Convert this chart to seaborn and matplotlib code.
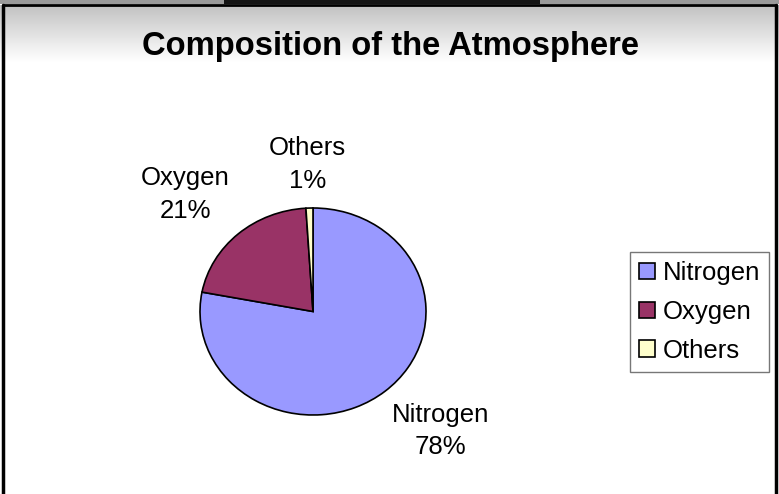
import numpy as np
import matplotlib
matplotlib.use('Agg')
import matplotlib.pyplot as plt
from matplotlib.patches import Rectangle
import seaborn as sns

sns.set_style('white')
plt.rcParams['font.family'] = ['Liberation Sans', 'DejaVu Sans']
plt.rcParams['text.color'] = 'black'

gases = ["Nitrogen", "Oxygen", "Others"]
shares = [78, 21, 1]
colors = ["#9999FF", "#993366", "#FFFFCC"]
title = "Composition of the Atmosphere"

W, H = 779, 494
fig = plt.figure(figsize=(W / 100, H / 100), dpi=100)

# background: screenshot frame with gray gradient at the top
bg = fig.add_axes([0, 0, 1, 1])
bg.set_xlim(0, W)
bg.set_ylim(H, 0)
bg.axis('off')
grad = np.linspace(0.76, 1.0, 60).reshape(-1, 1)
bg.imshow(grad, cmap='gray', vmin=0, vmax=1, extent=(0, W, 62, 5), aspect='auto')
bg.add_patch(Rectangle((0, 0), W, 4, color='#9a9a9a', lw=0))
bg.add_patch(Rectangle((224, 0), 316, 4, color='#151515', lw=0))
bg.plot([3, W - 3], [5, 5], color='black', lw=2)
bg.plot([3, 3], [5, H], color='black', lw=2.5)
bg.plot([W - 3, W - 3], [5, H], color='black', lw=2.5)
bg.text(W / 2 + 1, 46, title, ha='center', va='center', fontsize=23.6, fontweight='bold')

# pie (slightly elliptical like the original)
ax = fig.add_axes([200 / W, (H - 415) / H, 226 / W, 207 / H])
wedges, texts = ax.pie(shares, colors=colors, startangle=90, counterclock=False,
                       labels=[f"{g}\n{s}%" for g, s in zip(gases, shares)],
                       wedgeprops=dict(edgecolor='black', linewidth=1.2),
                       textprops=dict(fontsize=18.5, ha='center', va='center', linespacing=1.45))
ax.set_aspect('auto')
ax.set_xlim(-1.0, 1.0)
ax.set_ylim(-1.0, 1.0)
label_pos = [(1.13, -1.155), (-1.13, 1.13), (-0.05, 1.42)]
for t, p in zip(texts, label_pos):
    t.set_position(p)

leg = fig.legend(wedges, gases, loc='upper left', bbox_to_anchor=(630 / W, 1 - 252 / H),
                 fontsize=18.5, frameon=True, fancybox=False, handlelength=0.62,
                 handleheight=0.62, handletextpad=0.3, borderpad=0.35, labelspacing=0.58,
                 borderaxespad=0)
leg.get_frame().set_edgecolor('#555555')
leg.get_frame().set_linewidth(1)

fig.savefig('out.png', dpi=100)
